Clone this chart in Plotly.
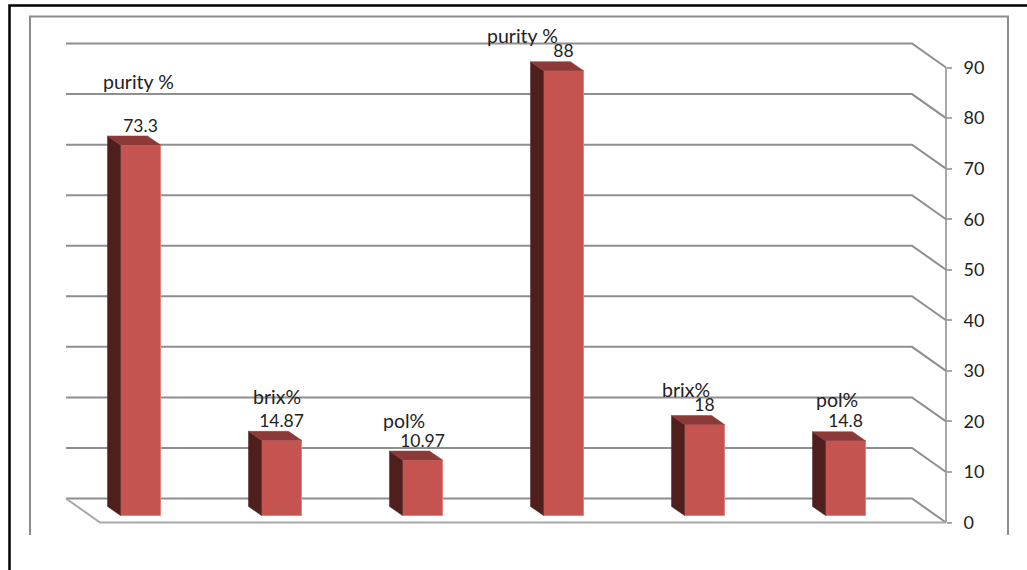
import plotly.graph_objects as go

# Chart content
categories = ["purity %", "brix%", "pol%", "purity %", "brix%", "pol%"]
values = [73.3, 14.87, 10.97, 88, 18, 14.8]
value_labels = ["73.3", "14.87", "10.97", "88", "18", "14.8"]
axis_ticks = [0, 10, 20, 30, 40, 50, 60, 70, 80, 90]

# Hand-placed category captions (page pixels, centre of text)
caption_x = [138, 277, 404, 522, 686, 837]
caption_y = [81, 396, 420, 36, 389, 399]

# Page and plot geometry
W, H = 1027, 570
BAR_STEP = 141.0       # pixels between bars
FIRST_BAR = 140.5      # pixel x of the first bar centre
BASE_Y = 515.5         # pixel y of value 0 in the plane of the bar fronts
UNIT = 5.055           # pixels per value unit
AXIS_ZERO = 522.5      # pixel y of value 0 on the right-hand axis
AXIS_X = 946.0

# Pseudo-3D offsets, in data units
bar_half = 20.0 / BAR_STEP
bar_dx, bar_dy = 13.0 / BAR_STEP, 9.0 / UNIT
wall_dx, wall_dy = 34.0 / BAR_STEP, 24.0 / UNIT
wall_left = (66.0 - FIRST_BAR) / BAR_STEP
wall_right = (912.0 - FIRST_BAR) / BAR_STEP
wall_base = (BASE_Y - 498.5) / UNIT

FRONT = "#C5534F"
EDGE = "#DB8480"
SIDE = "#4F1F1E"
TOP = "#8C3A38"
GRID = "#8E8E8E"
AXIS = "#A8A8A8"
TEXT = "#222222"
FONT = "Lato"

x_pos = list(range(len(values)))

fig = go.Figure()

# Front faces of the bars
fig.add_trace(go.Bar(
    x=x_pos, y=values, width=2 * bar_half,
    marker=dict(color=FRONT, line=dict(color=EDGE, width=1)),
    hoverinfo="skip", showlegend=False,
))

# Left and top faces
for xc, v in zip(x_pos, values):
    x0, x1 = xc - bar_half, xc + bar_half
    fig.add_trace(go.Scatter(
        x=[x0, x0, x0 - bar_dx, x0 - bar_dx, x0],
        y=[0, v, v + bar_dy, bar_dy, 0],
        mode="lines", fill="toself", fillcolor=SIDE,
        line=dict(color=SIDE, width=0.5), hoverinfo="skip", showlegend=False,
    ))
    fig.add_trace(go.Scatter(
        x=[x0, x1, x1 - bar_dx, x0 - bar_dx, x0],
        y=[v, v, v + bar_dy, v + bar_dy, v],
        mode="lines", fill="toself", fillcolor=TOP,
        line=dict(color=TOP, width=0.5), hoverinfo="skip", showlegend=False,
    ))

# Value labels sit above the back edge of each bar's top face
fig.add_trace(go.Scatter(
    x=x_pos, y=[v + bar_dy for v in values],
    mode="text", text=value_labels, textposition="top center",
    textfont=dict(family=FONT, size=17.5, color=TEXT),
    hoverinfo="skip", showlegend=False,
))

# Carrier trace so the right-hand axis is drawn
fig.add_trace(go.Scatter(x=[None], y=[None], yaxis="y2", hoverinfo="skip", showlegend=False))

shapes = []

# Back-wall gridlines, each folding forward to its axis tick
for t in axis_ticks:
    y_back = t + wall_base
    path = (f"M {wall_left} {y_back} L {wall_right} {y_back} "
            f"L {wall_right + wall_dx} {y_back - wall_dy}")
    shapes.append(dict(type="path", xref="x", yref="y", path=path, layer="below",
                       line=dict(color=GRID, width=2)))

# Floor: left and front edges
y_floor = wall_base
floor_path = (f"M {wall_left} {y_floor} L {wall_left + wall_dx} {y_floor - wall_dy} "
              f"L {wall_right + wall_dx} {y_floor - wall_dy}")
shapes.append(dict(type="path", xref="x", yref="y", path=floor_path, layer="below",
                   line=dict(color=AXIS, width=2)))

# Vertical line of the value axis
shapes.append(dict(type="line", xref="paper", yref="y2",
                   x0=AXIS_X / W, x1=AXIS_X / W, y0=axis_ticks[0], y1=axis_ticks[-1],
                   layer="below", line=dict(color=AXIS, width=2)))

# Inner grey frame, open at the bottom
frame = (f"M {30 / W} {1 - 535 / H} L {30 / W} {1 - 16.5 / H} "
         f"L {1008 / W} {1 - 16.5 / H} L {1008 / W} {1 - 535 / H}")
shapes.append(dict(type="path", xref="paper", yref="paper", path=frame, layer="below",
                   line=dict(color="#8C8C8C", width=2)))

# Outer black border along the top and left
outer = f"M {9.5 / W} 0 L {9.5 / W} {1 - 5.5 / H} L 1 {1 - 5.5 / H}"
shapes.append(dict(type="path", xref="paper", yref="paper", path=outer, layer="below",
                   line=dict(color="#000000", width=2.5)))

annotations = [
    dict(text=name, x=px / W, y=1 - py / H, xref="paper", yref="paper",
         xanchor="center", yanchor="middle", showarrow=False,
         font=dict(family=FONT, size=19.5, color=TEXT))
    for name, px, py in zip(categories, caption_x, caption_y)
]

fig.update_layout(
    width=W, height=H,
    margin=dict(l=0, r=0, t=0, b=0),
    paper_bgcolor="white", plot_bgcolor="white",
    showlegend=False,
    shapes=shapes, annotations=annotations,
    xaxis=dict(visible=False, domain=[0, 1],
               range=[-FIRST_BAR / BAR_STEP, (W - FIRST_BAR) / BAR_STEP]),
    yaxis=dict(visible=False, domain=[0, 1],
               range=[(BASE_Y - H) / UNIT, BASE_Y / UNIT]),
    yaxis2=dict(
        overlaying="y", side="right", anchor="free", position=AXIS_X / W,
        range=[(AXIS_ZERO - H) / UNIT, AXIS_ZERO / UNIT],
        tickmode="array", tickvals=axis_ticks, ticktext=[str(t) for t in axis_ticks],
        ticks="outside", ticklen=5, tickwidth=2, tickcolor=AXIS,
        ticklabelstandoff=8,
        showgrid=False, zeroline=False, showline=False,
        tickfont=dict(family=FONT, size=18, color=TEXT),
    ),
)

fig.write_html("out.html", config={"displayModeBar": False})
